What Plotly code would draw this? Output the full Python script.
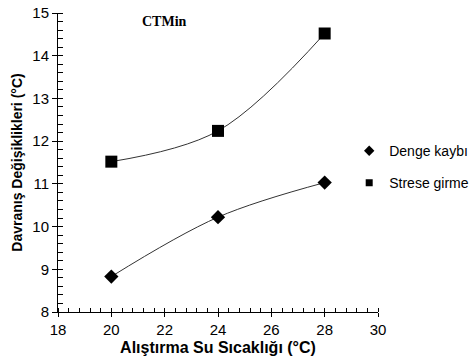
import plotly.graph_objects as go

x_vals = [20, 24, 28]
denge = [8.83, 10.22, 11.03]
strese = [11.52, 12.24, 14.52]
series_names = ["Denge kaybı", "Strese girme"]

fig = go.Figure()
fig.add_trace(go.Scatter(x=x_vals, y=denge, mode="lines", line=dict(shape="spline", color="#333333", width=1), showlegend=False, hoverinfo="skip"))
fig.add_trace(go.Scatter(x=x_vals, y=strese, mode="lines", line=dict(shape="spline", color="#333333", width=1), showlegend=False, hoverinfo="skip"))
fig.add_trace(go.Scatter(x=x_vals, y=denge, mode="markers", showlegend=False,
                         marker=dict(symbol="diamond", size=11, color="black")))
fig.add_trace(go.Scatter(x=x_vals, y=strese, mode="markers", showlegend=False,
                         marker=dict(symbol="square", size=12, color="black")))
# legend entries with smaller symbols
fig.add_trace(go.Scatter(x=[None], y=[None], mode="markers", name=series_names[0],
                         marker=dict(symbol="diamond", size=8, color="black"), legend="legend"))
fig.add_trace(go.Scatter(x=[None], y=[None], mode="markers", name=series_names[1],
                         marker=dict(symbol="square", size=7, color="black"), legend="legend2"))

font_fam = "Liberation Sans, Arial, sans-serif"
axis_font = dict(family=font_fam, size=15, color="black")
fig.update_xaxes(range=[18, 30], dtick=2, tick0=18, showgrid=False, zeroline=False,
                 showline=True, linecolor="black", linewidth=1,
                 ticks="outside", ticklen=4, tickcolor="black", tickfont=axis_font,
                 minor=dict(dtick=0.4, ticks="inside", ticklen=4, tickcolor="black", showgrid=False),
                 title=dict(text="<b>Alıştırma Su Sıcaklığı (°C)</b>", font=dict(family=font_fam, size=16, color="black"), standoff=4))
fig.update_yaxes(range=[8, 15], dtick=1, tick0=8, showgrid=False, zeroline=False,
                 showline=True, linecolor="black", linewidth=1,
                 ticks="outside", ticklen=5, tickcolor="black", tickfont=axis_font,
                 minor=dict(dtick=0.2, ticks="inside", ticklen=5, tickcolor="black", showgrid=False),
                 title=dict(text="<b>Davranış Değişiklikleri (°C)</b>", font=dict(family=font_fam, size=14, color="black"), standoff=6))

leg_font = dict(family=font_fam, size=14, color="black")
fig.update_layout(
    width=476, height=362,
    margin=dict(l=58, r=98, t=13, b=50, autoexpand=False),
    plot_bgcolor="white", paper_bgcolor="white",
    legend=dict(x=0.91, y=0.538, xanchor="left", yanchor="middle", font=leg_font, bgcolor="rgba(0,0,0,0)", itemwidth=30),
    legend2=dict(x=0.91, y=0.431, xanchor="left", yanchor="middle", font=leg_font, bgcolor="rgba(0,0,0,0)", itemwidth=30),
    annotations=[dict(text="<b>CTMin</b>", x=0.334, y=0.97, xref="paper", yref="paper", showarrow=False,
                      xanchor="center", yanchor="middle",
                      font=dict(family="Liberation Serif, Times New Roman, serif", size=14, color="black"))],
)
fig.write_html("out.html")
